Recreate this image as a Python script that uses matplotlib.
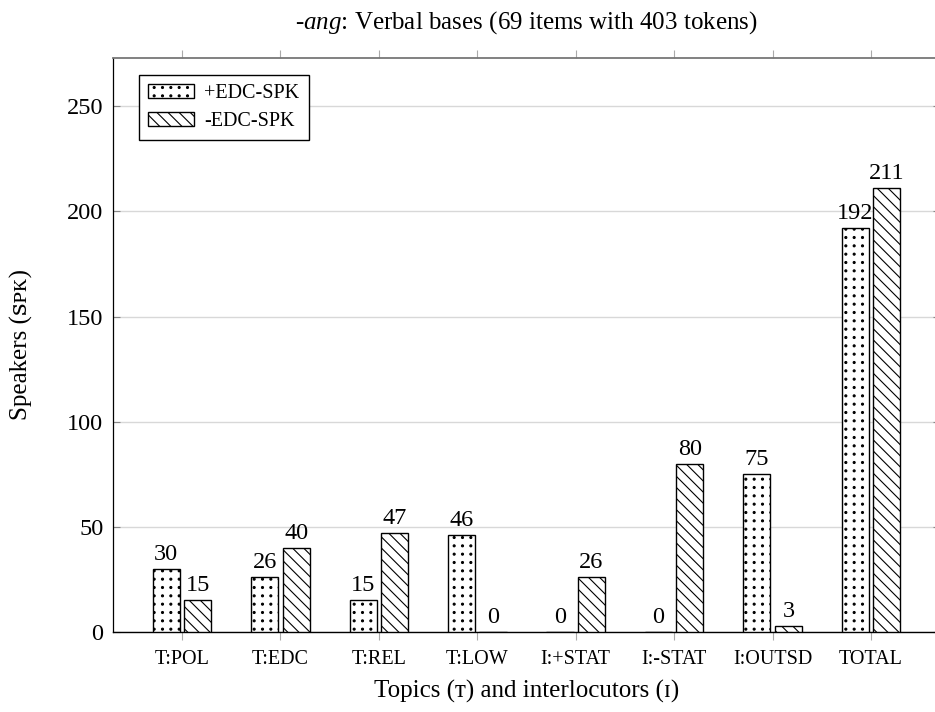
#!/usr/bin/env python3
"""grouped bar chart of speakers per topic / interlocutor for -ang verbal bases"""
import numpy as np
import matplotlib
matplotlib.use("Agg")
import matplotlib.pyplot as plt
from matplotlib import hatch as mhatch
from matplotlib.path import Path

categories = ["T:POL", "T:EDC", "T:REL", "T:LOW",
              "I:+STAT", "I:-STAT", "I:OUTSD", "TOTAL"]
plus_edc = [30, 26, 15, 46, 0, 0, 75, 192]
minus_edc = [15, 40, 47, 0, 26, 80, 3, 211]
series_names = ["+EDC-SPK", "-EDC-SPK"]


# square grid of dots (pgfplots "dots" pattern), instead of the staggered default
class GridDots(mhatch.Shapes):
    filled = True
    size = 0.12

    def __init__(self, hatch, density):
        self.num_rows = hatch.count('.') * density
        circle = Path.unit_circle()
        self.shape_vertices = circle.vertices
        self.shape_codes = circle.codes
        self.num_shapes = self.num_rows * self.num_rows
        self.num_vertices = self.num_shapes * len(self.shape_vertices)

    def set_vertices_and_codes(self, vertices, codes):
        step = 1.0 / self.num_rows
        sv = self.shape_vertices * step * self.size
        nv = len(sv)
        k = 0
        for r in range(self.num_rows):
            for c in range(self.num_rows):
                vertices[k * nv:(k + 1) * nv] = sv + ((c + 0.5) * step, (r + 0.5) * step)
                codes[k * nv:(k + 1) * nv] = self.shape_codes
                k += 1


mhatch._hatch_types = [GridDots if t is mhatch.SmallFilledCircles else t
                       for t in mhatch._hatch_types]

plt.rcParams['font.family'] = ['Liberation Serif', 'DejaVu Serif', 'DejaVu Sans']
plt.rcParams['mathtext.fontset'] = 'custom'
plt.rcParams['mathtext.rm'] = 'Liberation Serif'
plt.rcParams['mathtext.it'] = 'Liberation Serif:italic'
plt.rcParams['hatch.linewidth'] = 0.8

fig = plt.figure(figsize=(9.35, 7.12), dpi=100)
ax = fig.add_axes([113 / 935, 80 / 712, 827 / 935, 574 / 712])

x = np.arange(len(categories))
w = 0.275
off = 0.16
b1 = ax.bar(x - off, plus_edc, w, facecolor='white', edgecolor='black',
            linewidth=1.0, hatch='..', label=series_names[0], zorder=3)
b2 = ax.bar(x + off, minus_edc, w, facecolor='white', edgecolor='black',
            linewidth=1.0, hatch='\\\\\\', label=series_names[1], zorder=3)
ax.bar_label(b1, padding=3, fontsize=17.5)
ax.bar_label(b2, padding=3, fontsize=17.5)

ax.set_xlim(-0.7, 7.7)
ax.set_ylim(0, 273)
ax.set_yticks([0, 50, 100, 150, 200, 250])
ax.set_xticks(x)
ax.set_xticklabels(categories, fontsize=14.5)

ax.yaxis.grid(True, color='#d8d8d8', linewidth=1.0, zorder=0)
ax.set_axisbelow(True)
ax.tick_params(axis='y', direction='in', length=5, color='#888888',
               left=True, right=True, labelsize=17.5, pad=7)
ax.tick_params(axis='x', direction='out', length=6, color='#aaaaaa',
               top=True, bottom=True, labeltop=False, pad=7)

ax.spines['top'].set_color('#777777')
ax.spines['top'].set_linewidth(1.3)
ax.spines['right'].set_color('#777777')
ax.spines['left'].set_color('black')
ax.spines['left'].set_linewidth(0.9)
ax.spines['bottom'].set_color('black')
ax.spines['bottom'].set_linewidth(1.0)

ax.set_title(r'-$\mathit{ang}$: Verbal bases (69 items with 403 tokens)',
             fontsize=18, pad=21)
ax.set_xlabel('Topics (\u1d1b) and interlocutors (\u026a)', fontsize=18)
ax.set_ylabel('Speakers (\ua731\u1d18\u1d0b)', fontsize=18)
ax.xaxis.set_label_coords(0.5, -0.083)
ax.yaxis.set_label_coords(-0.097, 0.5)

leg = ax.legend(loc='upper left', bbox_to_anchor=(26 / 827, 1 - 17 / 574),
                borderaxespad=0, fontsize=14.5, fancybox=False, framealpha=1,
                edgecolor='black', handlelength=2.3, handleheight=0.65,
                borderpad=0.45, labelspacing=0.45, handletextpad=0.5)
leg.get_frame().set_linewidth(1.0)

fig.savefig('out.png', dpi=100)
